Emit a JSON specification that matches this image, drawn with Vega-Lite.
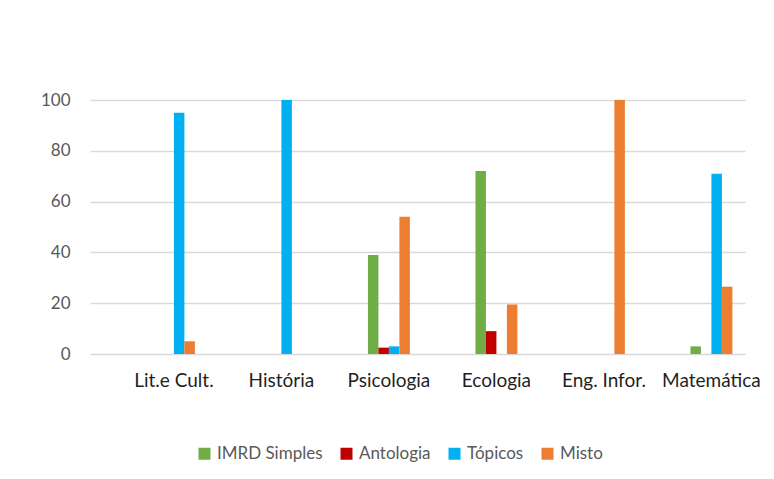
{
  "$schema": "https://vega.github.io/schema/vega-lite/v6.json",
  "autosize": "none",
  "width": 655,
  "height": 254,
  "padding": {"left": 90, "top": 100, "right": 29, "bottom": 125},
  "background": "white",
  "config": {"view": {"stroke": null}, "font": "Lato"},
  "data": {"values": [
    {"area": "Lit.e Cult.", "tipo": "IMRD Simples", "v": 0},
    {"area": "Lit.e Cult.", "tipo": "Antologia", "v": 0},
    {"area": "Lit.e Cult.", "tipo": "Tópicos", "v": 95},
    {"area": "Lit.e Cult.", "tipo": "Misto", "v": 5},
    {"area": "História", "tipo": "IMRD Simples", "v": 0},
    {"area": "História", "tipo": "Antologia", "v": 0},
    {"area": "História", "tipo": "Tópicos", "v": 100},
    {"area": "História", "tipo": "Misto", "v": 0},
    {"area": "Psicologia", "tipo": "IMRD Simples", "v": 39},
    {"area": "Psicologia", "tipo": "Antologia", "v": 2.5},
    {"area": "Psicologia", "tipo": "Tópicos", "v": 3},
    {"area": "Psicologia", "tipo": "Misto", "v": 54},
    {"area": "Ecologia", "tipo": "IMRD Simples", "v": 72},
    {"area": "Ecologia", "tipo": "Antologia", "v": 9},
    {"area": "Ecologia", "tipo": "Tópicos", "v": 0},
    {"area": "Ecologia", "tipo": "Misto", "v": 19.5},
    {"area": "Eng. Infor.", "tipo": "IMRD Simples", "v": 0},
    {"area": "Eng. Infor.", "tipo": "Antologia", "v": 0},
    {"area": "Eng. Infor.", "tipo": "Tópicos", "v": 0},
    {"area": "Eng. Infor.", "tipo": "Misto", "v": 100},
    {"area": "Matemática", "tipo": "IMRD Simples", "v": 3},
    {"area": "Matemática", "tipo": "Antologia", "v": 0},
    {"area": "Matemática", "tipo": "Tópicos", "v": 71},
    {"area": "Matemática", "tipo": "Misto", "v": 26.5}
  ]},
  "mark": {"type": "bar"},
  "encoding": {
    "x": {
      "field": "area", "type": "nominal", "sort": null,
      "scale": {"paddingInner": 0.61, "paddingOuter": 0.3515, "align": 0.833},
      "axis": {"title": null, "labelAngle": 0, "labelFontSize": 19, "labelColor": "#1f1f1f", "labelPadding": 17, "ticks": false, "domain": false}
    },
    "xOffset": {
      "field": "tipo", "type": "nominal", "sort": ["IMRD Simples", "Antologia", "Tópicos", "Misto"],
      "scale": {"paddingInner": 0, "paddingOuter": 0}
    },
    "y": {
      "field": "v", "type": "quantitative",
      "scale": {"domain": [0, 100], "nice": false},
      "axis": {"title": null, "values": [0, 20, 40, 60, 80, 100], "labelFontSize": 17, "labelColor": "#595959", "labelPadding": 20, "ticks": false, "domain": false, "gridColor": "#d9d9d9", "gridWidth": 1.5}
    },
    "color": {
      "field": "tipo", "type": "nominal", "sort": ["IMRD Simples", "Antologia", "Tópicos", "Misto"],
      "scale": {"domain": ["IMRD Simples", "Antologia", "Tópicos", "Misto"], "range": ["#70AD47", "#C00000", "#00B0F0", "#ED7D31"]},
      "legend": {"title": null, "orient": "none", "direction": "horizontal", "legendX": 106, "legendY": 345, "symbolType": "square", "symbolSize": 144, "symbolStrokeWidth": 0, "labelFontSize": 17, "labelColor": "#595959", "columnPadding": 15, "symbolOffset": 0, "labelOffset": 4}
    }
  }
}
